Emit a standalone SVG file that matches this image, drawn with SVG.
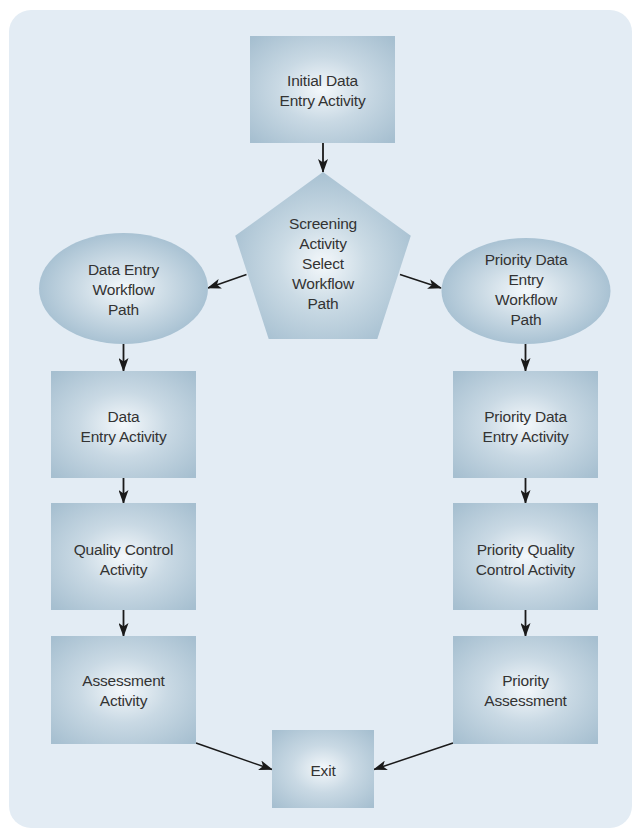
<svg xmlns="http://www.w3.org/2000/svg" width="634" height="829" viewBox="0 0 634 829">
<style>
  .lbl { font-family: "Liberation Sans", Arial, sans-serif; font-size: 15.5px; fill: #333333; text-anchor: middle; letter-spacing: -0.2px; }
  .box { fill: url(#gBox); }
  .ell { fill: url(#gEll); }
  .pent { fill: url(#gPent); }
  .conn { stroke: #1a1a1a; stroke-width: 1.8; fill: none; marker-end: url(#arrow); }
  .diag { stroke: #1a1a1a; stroke-width: 1.5; fill: none; marker-end: url(#arrow); }
</style>
<defs>
  <radialGradient id="gBox" cx="0.5" cy="0.5" r="0.68">
    <stop offset="0" stop-color="#f4f8fb"/>
    <stop offset="0.45" stop-color="#c9d9e4"/>
    <stop offset="1" stop-color="#a6bfd0"/>
  </radialGradient>
  <radialGradient id="gEll" cx="0.5" cy="0.5" r="0.5">
    <stop offset="0" stop-color="#f4f8fb"/>
    <stop offset="0.5" stop-color="#cddce6"/>
    <stop offset="1" stop-color="#a9c2d3"/>
  </radialGradient>
  <radialGradient id="gPent" cx="0.5" cy="0.55" r="0.55">
    <stop offset="0" stop-color="#f4f8fb"/>
    <stop offset="0.45" stop-color="#cbdbe5"/>
    <stop offset="1" stop-color="#a8c1d2"/>
  </radialGradient>
  <marker id="arrow" viewBox="0 0 14 10" refX="13" refY="5" markerWidth="14" markerHeight="10" markerUnits="userSpaceOnUse" orient="auto">
    <path d="M0,0 L14,5 L0,10 L3.5,5 z" fill="#1a1a1a"/>
  </marker>
</defs>

<rect id="background" x="9" y="10" width="623" height="818" rx="22" ry="22" fill="#e3ecf4"/>

<g id="connectors">
  <line class="conn" x1="323" y1="143" x2="323" y2="172"/>
  <line class="diag" x1="246.5" y1="274.5" x2="208" y2="288"/>
  <line class="diag" x1="400" y1="274.5" x2="441" y2="288"/>
  <line class="conn" x1="123.5" y1="344" x2="123.5" y2="371"/>
  <line class="conn" x1="123.5" y1="478" x2="123.5" y2="503"/>
  <line class="conn" x1="123.5" y1="610" x2="123.5" y2="636"/>
  <line class="conn" x1="525.5" y1="344" x2="525.5" y2="371"/>
  <line class="conn" x1="525.5" y1="478" x2="525.5" y2="503"/>
  <line class="conn" x1="525.5" y1="610" x2="525.5" y2="636"/>
  <line class="diag" x1="196" y1="743" x2="272" y2="769.5"/>
  <line class="diag" x1="453" y1="743" x2="374" y2="769.5"/>
</g>

<g id="initial">
  <rect class="box" x="250" y="36" width="145" height="107"/>
  <text class="lbl" x="322.5" y="86">Initial Data</text>
  <text class="lbl" x="322.5" y="106">Entry Activity</text>
</g>

<g id="screening">
  <polygon class="pent" points="323,172 410.8,235.8 377.3,339 268.7,339 235.2,235.8"/>
  <text class="lbl" x="323" y="229">Screening</text>
  <text class="lbl" x="323" y="249">Activity</text>
  <text class="lbl" x="323" y="269">Select</text>
  <text class="lbl" x="323" y="289">Workflow</text>
  <text class="lbl" x="323" y="309">Path</text>
</g>

<g id="dataEntryPath">
  <ellipse class="ell" cx="123.5" cy="288.5" rx="84.5" ry="55.5"/>
  <text class="lbl" x="123.5" y="275">Data Entry</text>
  <text class="lbl" x="123.5" y="295">Workflow</text>
  <text class="lbl" x="123.5" y="315">Path</text>
</g>

<g id="priorityPath">
  <ellipse class="ell" cx="526" cy="291" rx="84.5" ry="53"/>
  <text class="lbl" x="526" y="265">Priority Data</text>
  <text class="lbl" x="526" y="285">Entry</text>
  <text class="lbl" x="526" y="305">Workflow</text>
  <text class="lbl" x="526" y="325">Path</text>
</g>

<g id="dataEntry">
  <rect class="box" x="51" y="371" width="145" height="107"/>
  <text class="lbl" x="123.5" y="421.5">Data</text>
  <text class="lbl" x="123.5" y="441.5">Entry Activity</text>
</g>

<g id="qualityControl">
  <rect class="box" x="51" y="503" width="145" height="107"/>
  <text class="lbl" x="123.5" y="555">Quality Control</text>
  <text class="lbl" x="123.5" y="575">Activity</text>
</g>

<g id="assessment">
  <rect class="box" x="51" y="636" width="145" height="108"/>
  <text class="lbl" x="123.5" y="686">Assessment</text>
  <text class="lbl" x="123.5" y="706">Activity</text>
</g>

<g id="priorityDataEntry">
  <rect class="box" x="453" y="371" width="145" height="107"/>
  <text class="lbl" x="525.5" y="421.5">Priority Data</text>
  <text class="lbl" x="525.5" y="441.5">Entry Activity</text>
</g>

<g id="priorityQualityControl">
  <rect class="box" x="453" y="503" width="145" height="107"/>
  <text class="lbl" x="525.5" y="555">Priority Quality</text>
  <text class="lbl" x="525.5" y="575">Control Activity</text>
</g>

<g id="priorityAssessment">
  <rect class="box" x="453" y="636" width="145" height="108"/>
  <text class="lbl" x="525.5" y="686">Priority</text>
  <text class="lbl" x="525.5" y="706">Assessment</text>
</g>

<g id="exit">
  <rect class="box" x="272" y="730" width="102" height="78"/>
  <text class="lbl" x="323" y="775.5">Exit</text>
</g>
</svg>
